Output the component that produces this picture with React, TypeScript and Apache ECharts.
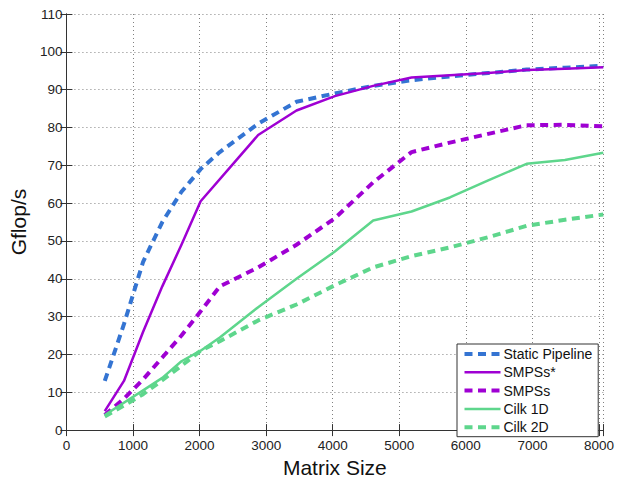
import React, { useEffect, useRef } from "react";
import * as echarts from "echarts";

const staticSizes = [576, 864, 1152, 1440, 1728, 2016, 2304, 2880, 3456, 4032, 4608, 5184, 5760, 6336, 6912, 7488, 8064];
const staticValues = [13, 28, 44.5, 55, 63, 69, 73.5, 81, 86.8, 89, 91, 92.5, 93.5, 94.4, 95.3, 95.8, 96.3];

const smpssStarSizes = [576, 864, 1152, 1440, 1728, 2016, 2880, 3456, 4032, 4608, 5184, 5760, 6336, 6912, 7488, 8064];
const smpssStarValues = [5, 13, 26, 38, 49, 60.5, 78, 84.5, 88.3, 91, 93.2, 93.8, 94.4, 95.2, 95.5, 95.9];

const smpssSizes = [576, 864, 1152, 1440, 1728, 2016, 2304, 2880, 3456, 4032, 4608, 5184, 5760, 6336, 6912, 7488, 8064];
const smpssValues = [4, 8.3, 13.4, 19.2, 25, 31.4, 38, 43, 49, 56, 65.5, 73.5, 76, 78.3, 80.6, 80.7, 80.3];

const cilk1dSizes = [576, 1152, 1440, 1728, 2016, 2304, 2880, 3456, 4032, 4608, 5184, 5760, 6336, 6912, 7488, 8064];
const cilk1dValues = [4, 10.5, 13.8, 18.2, 21, 24.5, 32.5, 40, 47.2, 55.4, 57.8, 61.5, 66, 70.4, 71.4, 73.3];

const cilk2dSizes = [576, 864, 1152, 1440, 1728, 2016, 2304, 2880, 3456, 4032, 4608, 5184, 5760, 6336, 6912, 7488, 8064];
const cilk2dValues = [3.6, 6.5, 9.5, 13.2, 17, 21, 23.5, 29, 33.2, 38.3, 43, 46, 48.3, 51, 54, 55.6, 57];

const seriesNames = ["Static Pipeline", "SMPSs*", "SMPSs", "Cilk 1D", "Cilk 2D"];

const X_MIN = 0;
const X_MAX = 8064;
const X_INTERVAL = 1000;
const Y_MIN = 0;
const Y_MAX = 110;
const Y_INTERVAL = 10;

const BLUE = "#3474d2";
const PURPLE = "#9f00d3";
const GREEN = "#5ed68c";
const AXIS = "#333333";
const FONT = "'Liberation Sans', Arial, Helvetica, sans-serif";

const pairs = (xs: number[], ys: number[]) => xs.map((x, i) => [x, ys[i]]);

export default function App() {
  const ref = useRef<HTMLDivElement>(null);
  useEffect(() => {
    if (!ref.current) return;
    const chart = echarts.init(ref.current, undefined, { renderer: "svg" });
    const dash = [8, 5.5];
    const mkSeries = (name: string, data: number[][], color: string, width: number, dashed: boolean) => ({
      type: "line",
      name,
      data,
      symbol: "none",
      showSymbol: false,
      clip: true,
      color,
      lineStyle: { color, width, type: dashed ? dash : "solid", cap: "butt", join: "round" },
      emphasis: { disabled: true },
    });
    const hiddenAxisCommon = {
      axisLabel: { show: false },
      splitLine: { show: false },
      axisLine: { show: true, lineStyle: { color: AXIS, width: 1 } },
      axisTick: { show: true, inside: true, length: 6, lineStyle: { color: AXIS } },
    };
    chart.setOption({
      animation: false,
      backgroundColor: "#ffffff",
      textStyle: { fontFamily: FONT },
      grid: { left: 63.5, top: 14, width: 541.5, height: 428.3, containLabel: false },
      legend: {
        orient: "vertical",
        left: 457,
        top: 344,
        data: seriesNames,
        itemWidth: 36,
        itemHeight: 14,
        itemGap: 4.3,
        padding: [3, 6, 2.5, 5.5],
        borderColor: "#333333",
        borderWidth: 1,
        backgroundColor: "#ffffff",
        textStyle: { fontFamily: FONT, fontSize: 14, color: "#111111", padding: [0, 0, 0, -2] },
        lineStyle: { width: "inherit", type: "inherit" },
        itemStyle: { opacity: 0, borderWidth: 0 },
      },
      xAxis: [
        {
          type: "value",
          position: "bottom",
          min: X_MIN,
          max: X_MAX,
          interval: X_INTERVAL,
          name: "Matrix Size",
          nameLocation: "middle",
          nameGap: 21,
          nameTextStyle: { fontFamily: FONT, fontSize: 21, color: "#111111" },
          axisLine: { show: true, onZero: false, lineStyle: { color: AXIS, width: 1 } },
          axisTick: { show: true, inside: true, length: 6, lineStyle: { color: AXIS } },
          axisLabel: {
            fontFamily: FONT,
            fontSize: 13.5,
            color: "#222222",
            margin: 8,
            formatter: (v: number) => (v % 1000 === 0 ? String(v) : ""),
          },
          splitLine: { show: true, lineStyle: { color: "#808080", width: 1, type: [1, 3] } },
        },
        {
          type: "value",
          position: "top",
          min: X_MIN,
          max: X_MAX,
          interval: X_INTERVAL,
          ...hiddenAxisCommon,
        },
      ],
      yAxis: [
        {
          type: "value",
          position: "left",
          min: Y_MIN,
          max: Y_MAX,
          interval: Y_INTERVAL,
          name: "Gflop/s",
          nameLocation: "middle",
          nameGap: 35,
          nameTextStyle: { fontFamily: FONT, fontSize: 21, color: "#111111" },
          axisLine: { show: true, onZero: false, lineStyle: { color: AXIS, width: 1 } },
          axisTick: { show: true, inside: true, length: 6, lineStyle: { color: AXIS } },
          axisLabel: { fontFamily: FONT, fontSize: 13.5, color: "#222222", margin: 4 },
          splitLine: { show: true, lineStyle: { color: "#808080", width: 1, type: [1, 3] } },
        },
        {
          type: "value",
          position: "right",
          min: Y_MIN,
          max: Y_MAX,
          interval: Y_INTERVAL,
          ...hiddenAxisCommon,
        },
      ],
      series: [
        mkSeries(seriesNames[0], pairs(staticSizes, staticValues), BLUE, 4, true),
        mkSeries(seriesNames[1], pairs(smpssStarSizes, smpssStarValues), PURPLE, 2.5, false),
        mkSeries(seriesNames[2], pairs(smpssSizes, smpssValues), PURPLE, 4, true),
        mkSeries(seriesNames[3], pairs(cilk1dSizes, cilk1dValues), GREEN, 2.5, false),
        mkSeries(seriesNames[4], pairs(cilk2dSizes, cilk2dValues), GREEN, 4, true),
      ],
    });
    return () => chart.dispose();
  }, []);
  return (
    <div
      ref={ref}
      style={{ position: "fixed", left: 0, top: 0, width: 617, height: 483, background: "#ffffff" }}
    />
  );
}
